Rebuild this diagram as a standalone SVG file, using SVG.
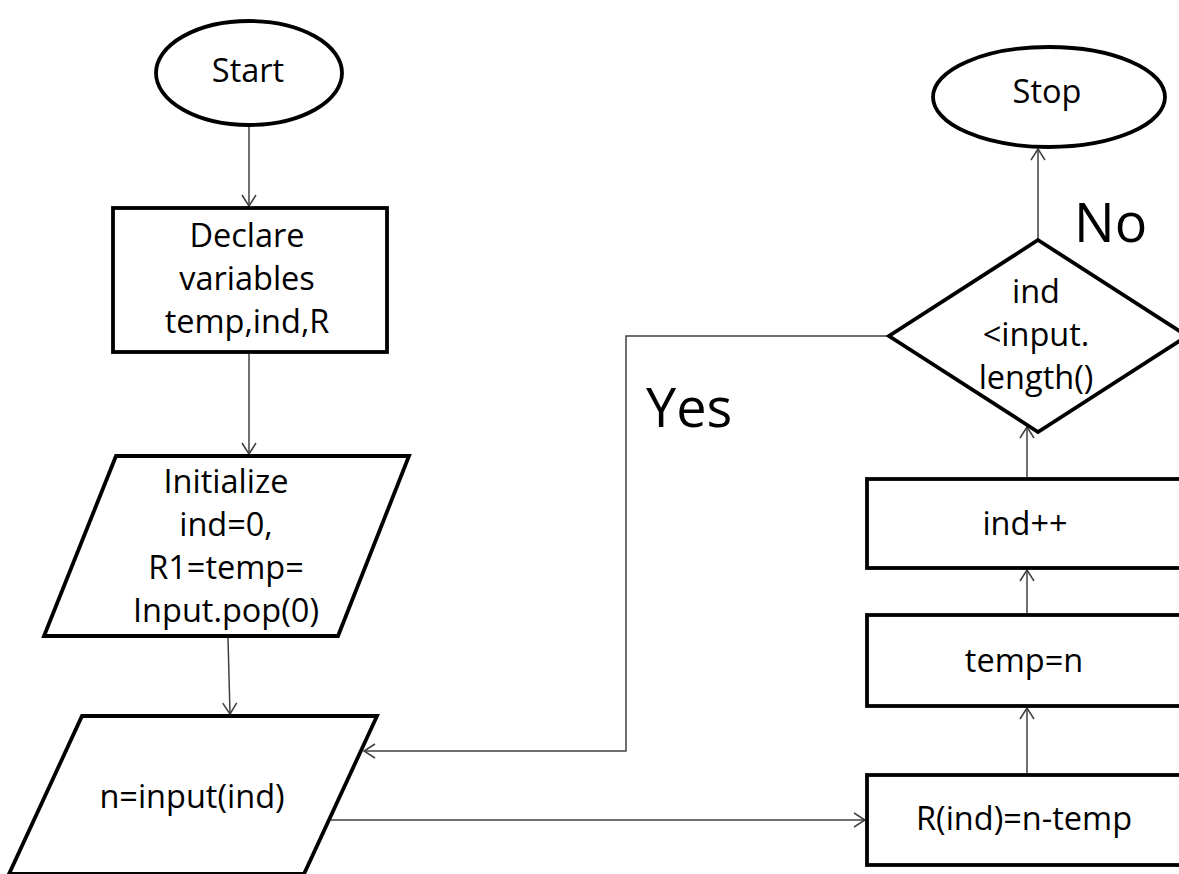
<svg xmlns="http://www.w3.org/2000/svg" width="1179" height="874" viewBox="0 0 1179 874">
<style>
.shape{fill:#fff;stroke:#000;stroke-width:3.8}
.conn{fill:none;stroke:#404040;stroke-width:1.5}
.t{font-family:"Open Sans","Noto Sans",sans-serif;font-size:32.5px;fill:#000;text-anchor:middle}
.big{font-family:"Open Sans","Noto Sans",sans-serif;font-size:54px;fill:#000}
</style>
<defs>
<marker id="arr" markerUnits="userSpaceOnUse" markerWidth="14" markerHeight="16" refX="12" refY="8" orient="auto">
<path d="M1,1 L12,8 L1,15" fill="none" stroke="#404040" stroke-width="1.5"/>
</marker>
</defs>
<rect width="1179" height="874" fill="#fff"/>
<g id="connectors">
<line class="conn" x1="249" y1="125" x2="249" y2="206" marker-end="url(#arr)"/>
<line class="conn" x1="249" y1="354" x2="249" y2="454" marker-end="url(#arr)"/>
<line class="conn" x1="228" y1="638" x2="230" y2="714" marker-end="url(#arr)"/>
<line class="conn" x1="331" y1="820" x2="865" y2="820" marker-end="url(#arr)"/>
<line class="conn" x1="1027" y1="773" x2="1027" y2="708" marker-end="url(#arr)"/>
<line class="conn" x1="1027" y1="613" x2="1027" y2="570" marker-end="url(#arr)"/>
<line class="conn" x1="1027" y1="477" x2="1027" y2="427" marker-end="url(#arr)"/>
<line class="conn" x1="1038" y1="240" x2="1038" y2="149" marker-end="url(#arr)"/>
<polyline class="conn" points="889,336 626,336 626,751 364,751" marker-end="url(#arr)"/>
</g>
<g id="start">
<ellipse class="shape" cx="249" cy="73" rx="93" ry="52"/>
<text class="t" x="248" y="82">Start</text>
</g>
<g id="declare">
<rect class="shape" x="113" y="208" width="274" height="144"/>
<text class="t" x="247" y="247">Declare</text>
<text class="t" x="247" y="290">variables</text>
<text class="t" x="247" y="333">temp,ind,R</text>
</g>
<g id="initialize">
<polygon class="shape" points="116,456 409,456 338,636 44,636"/>
<text class="t" x="226" y="493">Initialize</text>
<text class="t" x="226" y="536">ind=0,</text>
<text class="t" x="226" y="579">R1=temp=</text>
<text class="t" x="226" y="622">Input.pop(0)</text>
</g>
<g id="input">
<polygon class="shape" points="82,716 377,716 304,874 9,874"/>
<text class="t" x="192" y="808">n=input(ind)</text>
</g>
<g id="rind">
<rect class="shape" x="867" y="775" width="318" height="90"/>
<text class="t" x="1024" y="830">R(ind)=n-temp</text>
</g>
<g id="tempn">
<rect class="shape" x="867" y="615" width="318" height="91"/>
<text class="t" x="1024" y="672">temp=n</text>
</g>
<g id="indpp">
<rect class="shape" x="867" y="479" width="318" height="89"/>
<text class="t" x="1025" y="535">ind++</text>
</g>
<g id="decision">
<polygon class="shape" points="1038,240 1187,336 1038,432 889,336"/>
<text class="t" x="1036" y="303">ind</text>
<text class="t" x="1036" y="346">&lt;input.</text>
<text class="t" x="1036" y="389">length()</text>
</g>
<g id="stop">
<ellipse class="shape" cx="1049" cy="97" rx="116" ry="50"/>
<text class="t" x="1047" y="103">Stop</text>
</g>
<g id="labels">
<text class="big" x="646" y="427">Yes</text>
<text class="big" x="1074" y="242">No</text>
</g>
</svg>
